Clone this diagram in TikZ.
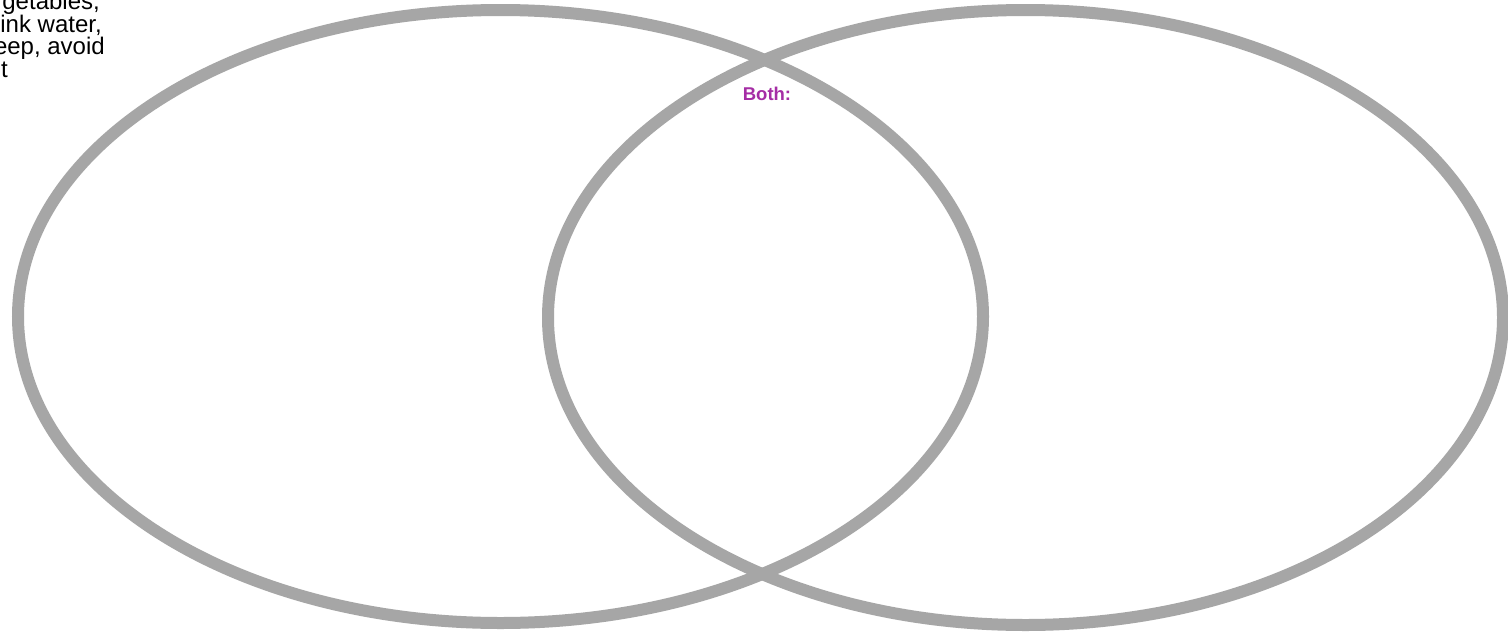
\documentclass[tikz,border=0pt]{standalone}
\usepackage{fontspec}
\setmainfont{Liberation Sans}
\definecolor{ringgrey}{RGB}{166,166,166}
\definecolor{bothpurple}{RGB}{165,45,165}
\tikzset{
  ring/.style={draw=ringgrey, line width=12pt},
  notetext/.style={inner sep=0pt, anchor=base east, font=\fontsize{24pt}{26pt}\selectfont, text=black},
  bothlabel/.style={inner sep=0pt, anchor=base, font=\fontsize{18.5pt}{20pt}\selectfont\bfseries, text=bothpurple}
}
\begin{document}
\begin{tikzpicture}[x=1pt,y=-1pt]
  \useasboundingbox (0,0) rectangle (1508,632);
  \fill[white] (0,0) rectangle (1508,632);
  \draw[ring] (500.5,316.5) ellipse [x radius=482.5pt, y radius=306.5pt];
  \draw[ring] (1025.5,317.5) ellipse [x radius=477.5pt, y radius=307.5pt];
  \node[notetext] (l1) at (100,9.5) {getables,};
  \node[notetext] (l2) at (102,32) {ink water,};
  \node[notetext] (l3) at (105,54.5) {eep, avoid};
  \node[notetext] (l4) at (8,77) {t};
  \node[bothlabel] (both) at (767,100) {Both:};
\end{tikzpicture}
\end{document}
